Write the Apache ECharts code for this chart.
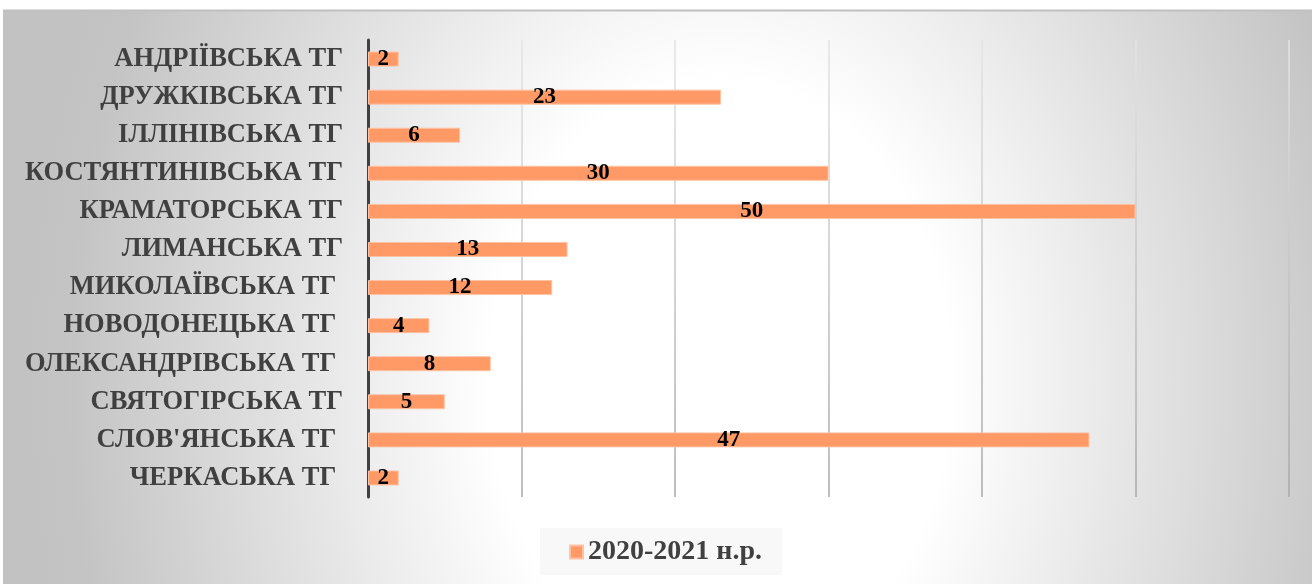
<!DOCTYPE html>
<html>
<head>
<meta charset="utf-8">
<script src="https://cdn.jsdelivr.net/npm/echarts@6/dist/echarts.min.js"></script>
<style>
html,body{margin:0;padding:0;background:#ffffff;}
#c{width:1312px;height:584px;}
</style>
</head>
<body>
<div id="c"></div>
<script>
const categories = [
  'АНДРІЇВСЬКА ТГ',
  'ДРУЖКІВСЬКА ТГ',
  'ІЛЛІНІВСЬКА ТГ',
  'КОСТЯНТИНІВСЬКА ТГ',
  'КРАМАТОРСЬКА ТГ',
  'ЛИМАНСЬКА ТГ',
  'МИКОЛАЇВСЬКА ТГ ',
  'НОВОДОНЕЦЬКА ТГ ',
  'ОЛЕКСАНДРІВСЬКА ТГ ',
  'СВЯТОГІРСЬКА ТГ',
  "СЛОВ'ЯНСЬКА ТГ ",
  'ЧЕРКАСЬКА ТГ '
];
const seriesName = '2020-2021 н.р.';
const values = [2, 23, 6, 30, 50, 13, 12, 4, 8, 5, 47, 2];
const axisMin = 0, axisMax = 60, axisStep = 10;

const chart = echarts.init(document.getElementById('c'), null, {renderer: 'canvas'});
const serif = '"Liberation Serif", "Times New Roman", serif';
const bgCx = 720, bgCy = 380, bgSy = 1.3;
chart.setOption({
  animation: false,
  graphic: [
    {
      type: 'rect', z: -10, silent: true,
      scaleY: bgSy, originX: bgCx, originY: bgCy,
      shape: {x: 3, y: bgCy + (10 - bgCy) / bgSy, width: 1309, height: 574 / bgSy},
      style: {
        fill: new echarts.graphic.RadialGradient(bgCx, bgCy, 700, [
          {offset: 0, color: '#ffffff'},
          {offset: 0.33, color: '#ffffff'},
          {offset: 0.93, color: '#c4c4c4'},
          {offset: 1, color: '#c2c2c2'}
        ], true)
      }
    },
    {
      type: 'line', z: -9, silent: true,
      shape: {x1: 3, y1: 10.5, x2: 1312, y2: 10.5},
      style: {stroke: '#c0c0c0', lineWidth: 2}
    }
  ],
  grid: {left: 368, right: 23, top: 40, bottom: 87, containLabel: false},
  legend: {
    bottom: 9,
    left: 540,
    data: [seriesName],
    icon: 'rect',
    itemWidth: 13,
    itemHeight: 13,
    itemGap: 8,
    backgroundColor: '#f8f8f8',
    padding: [10, 20, 9, 29],
    textStyle: {fontFamily: serif, fontWeight: 'bold', fontSize: 28, color: '#404040'}
  },
  xAxis: {
    type: 'value',
    min: axisMin, max: axisMax, interval: axisStep,
    axisLine: {show: false},
    axisTick: {show: false},
    axisLabel: {show: false},
    splitLine: {show: true, lineStyle: {
      color: new echarts.graphic.LinearGradient(0, 40, 0, 497, [
        {offset: 0, color: '#e4e4e4'},
        {offset: 1, color: '#a8a8a8'}
      ], true),
      width: 1.5
    }}
  },
  yAxis: {
    type: 'category',
    inverse: true,
    data: categories,
    axisLine: {show: true, lineStyle: {color: '#404040', width: 3}},
    axisTick: {show: false},
    axisLabel: {
      margin: 25,
      fontFamily: serif, fontWeight: 'bold', fontSize: 26.5, color: '#404040'
    }
  },
  series: [{
    name: seriesName,
    type: 'bar',
    data: values,
    barWidth: 15,
    itemStyle: {color: '#FF9966', borderColor: '#FFC2A3', borderWidth: 1},
    label: {
      show: true,
      position: 'inside',
      fontFamily: serif, fontWeight: 'bold', fontSize: 23, color: '#000000'
    }
  }]
});
</script>
</body>
</html>
